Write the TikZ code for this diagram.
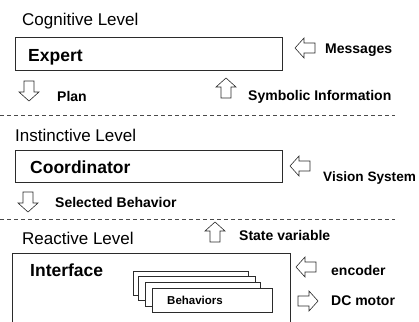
\documentclass[tikz,border=0pt]{standalone}
\usepackage{fontspec}
\setmainfont{Liberation Sans}
\usetikzlibrary{positioning}
\definecolor{ink}{HTML}{2B2B2B}
\definecolor{rule}{HTML}{4A4A4A}
\tikzset{
  levelbox/.style={draw=ink, fill=white, line width=0.9pt, inner sep=0pt},
  behbox/.style={draw=ink, fill=white, line width=0.8pt, inner sep=0pt, minimum height=24pt},
  leveltxt/.style={anchor=base west, inner sep=0pt, font=\fontsize{17}{20}\selectfont},
  boxtxt/.style={anchor=base west, inner sep=0pt, font=\fontsize{17.5}{20}\selectfont\bfseries},
  sigtxt/.style={anchor=base west, inner sep=0pt, font=\fontsize{14}{16}\selectfont\bfseries},
  divider/.style={draw=rule, line width=0.8pt, dash pattern=on 4pt off 3pt},
  blockarrow/.pic={
    \draw[draw=ink, fill=white, line width=0.6pt, line join=miter]
      (-10,-5) -- (1,-5) -- (1,-10) -- (10,0) -- (1,10) -- (1,5) -- (-10,5) -- cycle;
  }
}

\begin{document}
\begin{tikzpicture}[x=1pt,y=-1pt]
        \useasboundingbox (0,0) rectangle (419,321);
        \clip (0,0) rectangle (419,321);
        % cognitive level
        \node[leveltxt] (cogn) at (22,26) {Cognitive Level};
        \node[levelbox, minimum width=267pt, minimum height=33pt] (expert) at (148.5,53.5) {};
        \node[boxtxt] (experttxt) at (28,61) {Expert};
        \pic[rotate=180] at (305,48) {blockarrow};
        \node[sigtxt] (msg) at (325,53) {Messages};
        \pic[rotate=-90] at (29,91) {blockarrow};
        \node[sigtxt] (plan) at (57,101) {Plan};
        \pic[rotate=90] at (226,88) {blockarrow};
        \node[sigtxt] (symb) at (248,100) {Symbolic Information};
        \draw[divider] (0,115) -- (395,115);
        % instinctive level
        \node[leveltxt] (inst) at (15,141) {Instinctive Level};
        \node[levelbox, minimum width=267pt, minimum height=32pt] (coord) at (148.5,166) {};
        \node[boxtxt] (coordtxt) at (30,173) {Coordinator};
        \pic[rotate=180] at (300,166) {blockarrow};
        \node[sigtxt, font=\fontsize{13.6}{16}\selectfont\bfseries] (vision) at (323,181) {Vision System};
        \pic[rotate=-90] at (28,202) {blockarrow};
        \node[sigtxt] (selbeh) at (55,207) {Selected Behavior};
        \draw[divider] (0,219) -- (395,219);
        % reactive level
        \node[leveltxt] (react) at (22,244) {Reactive Level};
        \pic[rotate=90] at (215,232) {blockarrow};
        \node[sigtxt] (state) at (239,240) {State variable};
        \node[levelbox, minimum width=278pt, minimum height=80pt] (iface) at (151,293) {};
        \node[boxtxt] (ifacetxt) at (30,276) {Interface};
        \foreach \n/\cx/\cy/\w in {1/190.5/283/115, 2/196.5/288/117, 3/202.5/294/115, 4/212/300/120}
          \node[behbox, minimum width=\w pt] (beh\n) at (\cx,\cy) {};
        \node[anchor=base west, inner sep=0pt, font=\fontsize{11.5}{13}\selectfont\bfseries] (behtxt) at (167,304) {Behaviors};
        \pic[rotate=180] at (306,267) {blockarrow};
        \node[sigtxt] (enc) at (331,275) {encoder};
        \pic at (308,301) {blockarrow};
        \node[sigtxt] (motor) at (331,305) {DC motor};
      \end{tikzpicture}
\end{document}
